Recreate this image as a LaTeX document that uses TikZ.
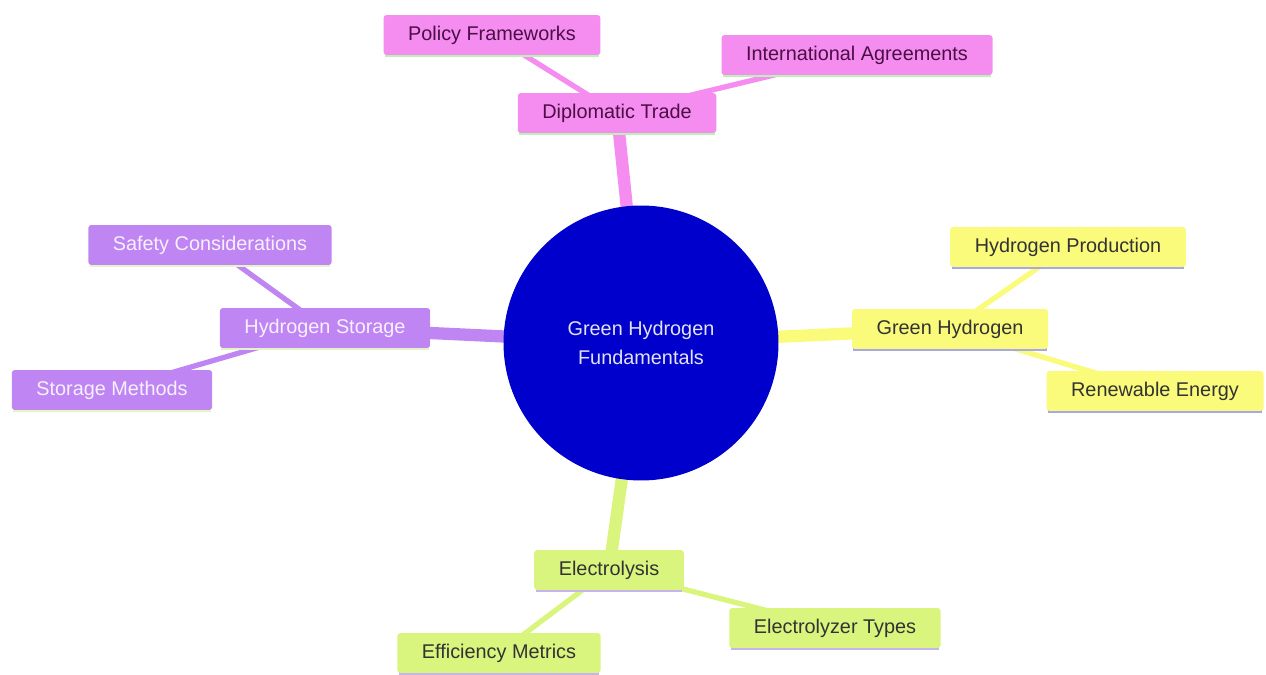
\documentclass[tikz,border=0pt]{standalone}
\usepackage{fontspec}
\setmainfont{Liberation Sans}
\usetikzlibrary{backgrounds}
\definecolor{hubfill}{HTML}{0000CC}
\definecolor{hubtext}{HTML}{E2E2F2}
\definecolor{pinkfill}{HTML}{F58CF0}
\definecolor{pinktext}{HTML}{4B0E45}
\definecolor{pinkline}{HTML}{BDF0B4}
\definecolor{lilacfill}{HTML}{BF85F2}
\definecolor{lilactext}{HTML}{F7F0FF}
\definecolor{lilacline}{HTML}{E4F3C8}
\definecolor{lemonfill}{HTML}{FAFA7B}
\definecolor{lemonline}{HTML}{A9A8E6}
\definecolor{limefill}{HTML}{DAF57E}
\definecolor{limeline}{HTML}{C6B4EC}
\definecolor{darktext}{HTML}{333333}
\begin{document}
\begin{tikzpicture}[x=0.02cm,y=-0.02cm,
  box/.style={rounded corners=1.7pt,inner xsep=14pt,minimum height=22.7pt,
    text height=8.4pt,text depth=2.4pt,font=\fontsize{11.3}{13}\selectfont},
  rim/.style={append after command={\pgfextra{\draw[#1,line width=1.6pt]
    ([xshift=1pt]\tikzlastnode.south west)--([xshift=-1pt]\tikzlastnode.south east);}}},
  pinkbox/.style={box,fill=pinkfill,text=pinktext,rim=pinkline},
  lilacbox/.style={box,fill=lilacfill,text=lilactext,rim=lilacline},
  lemonbox/.style={box,fill=lemonfill,text=darktext,rim=lemonline},
  limebox/.style={box,fill=limefill,text=darktext,rim=limeline},
  trunk/.style={line width=7pt},
  twig/.style={line width=3pt}]
\useasboundingbox (0,0) rectangle (1266,675);
% hub
\node[circle,fill=hubfill,text=hubtext,minimum size=156.5pt,inner sep=0pt,align=center,
  font=\fontsize{11.3}{16.4}\selectfont] (hub) at (641,343) {Green Hydrogen\\Fundamentals};
% diplomatic trade
\node[pinkbox] (trade) at (617,113) {Diplomatic Trade};
\node[pinkbox] (policy) at (492,35) {Policy Frameworks};
\node[pinkbox] (intl) at (857,55) {International Agreements};
% storage
\node[lilacbox] (storage) at (325,328) {Hydrogen Storage};
\node[lilacbox] (safety) at (210,245) {Safety Considerations};
\node[lilacbox] (methods) at (112,390) {Storage Methods};
% green hydrogen
\node[lemonbox] (green) at (950,329) {Green Hydrogen};
\node[lemonbox] (production) at (1068,247) {Hydrogen Production};
\node[lemonbox] (renewable) at (1155,391) {Renewable Energy};
% electrolysis
\node[limebox] (electro) at (609,570) {Electrolysis};
\node[limebox] (types) at (835,628) {Electrolyzer Types};
\node[limebox] (metrics) at (499,653) {Efficiency Metrics};
\begin{scope}[on background layer]
\draw[trunk,pinkfill] (hub.center)--(trade.center);
\draw[twig,pinkfill] (trade.center)--(policy.center) (trade.center)--(intl.center);
\draw[trunk,lilacfill] (hub.center)--(storage.center);
\draw[twig,lilacfill] (storage.center)--(safety.center) (storage.center)--(methods.center);
\draw[trunk,lemonfill] (hub.center)--(green.center);
\draw[twig,lemonfill] (green.center)--(production.center) (green.center)--(renewable.center);
\draw[trunk,limefill] (hub.center)--(electro.center);
\draw[twig,limefill] (electro.center)--(types.center) (electro.center)--(metrics.center);
\end{scope}
\end{tikzpicture}
\end{document}
